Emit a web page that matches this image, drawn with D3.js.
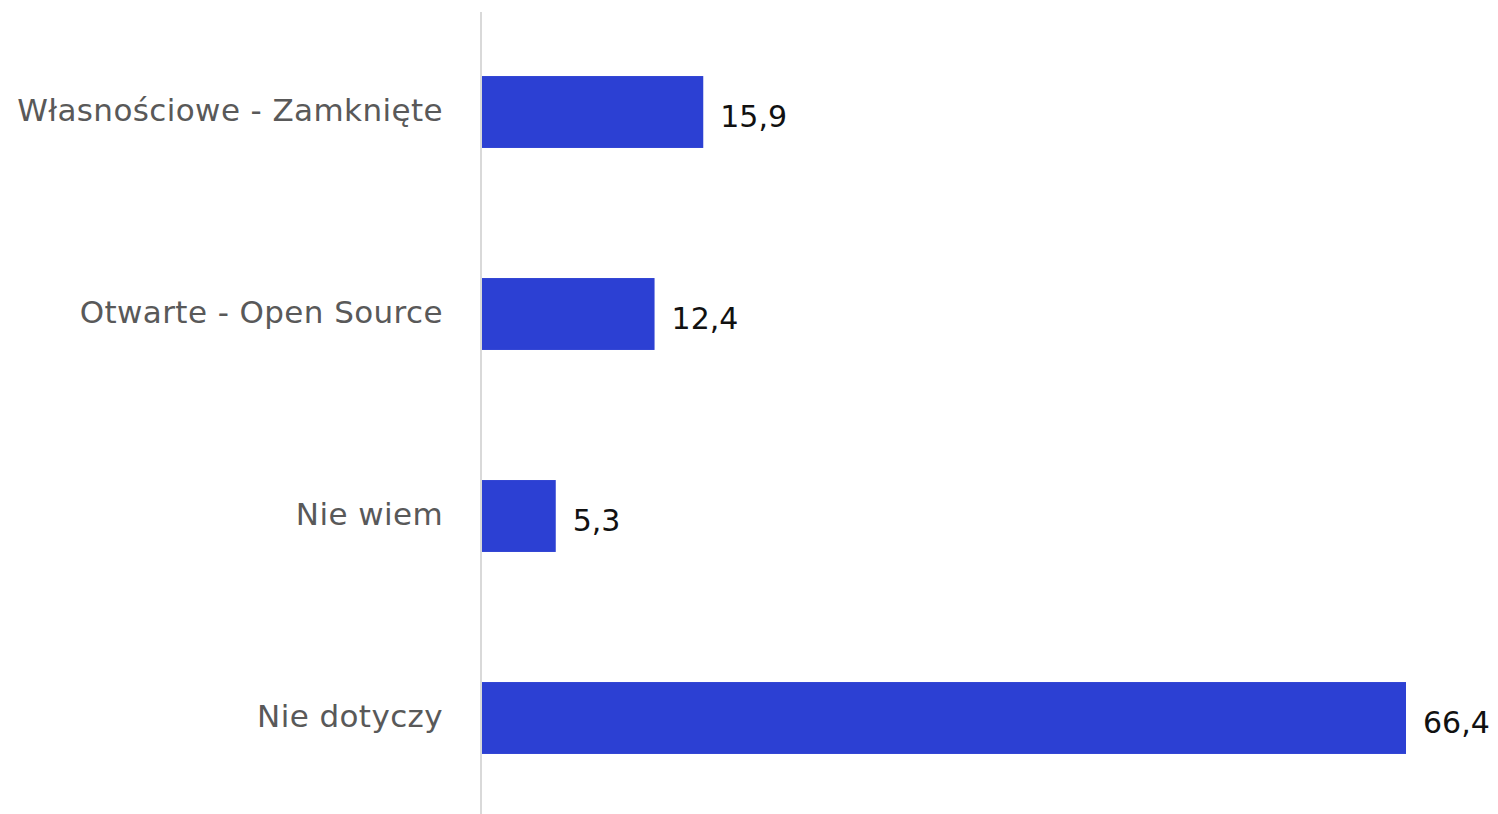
<!DOCTYPE html>
<html><head><meta charset="utf-8">
<script src="https://cdn.jsdelivr.net/npm/d3@7"></script>
<style>html,body{margin:0;padding:0;background:#fff;}svg{display:block;}</style>
</head><body>
<svg id="chart" width="1498" height="814"></svg>
<script>
const categories = ["Własnościowe - Zamknięte", "Otwarte - Open Source", "Nie wiem", "Nie dotyczy"];
const values = [15.9, 12.4, 5.3, 66.4];
const valueLabels = ["15,9", "12,4", "5,3", "66,4"];

const svg = d3.select("#chart");
const x0 = 482;
const x = d3.scaleLinear().domain([0, 66.4]).range([x0, 1406]);
const y = d3.scaleBand().domain(categories).range([11, 819]).paddingInner(0.644).paddingOuter(0.322);

svg.append("line").attr("x1", 481).attr("x2", 481).attr("y1", 12).attr("y2", 814)
  .attr("stroke", "#d9d9d9").attr("stroke-width", 2);

svg.selectAll("rect.bar").data(values).join("rect").attr("class","bar")
  .attr("x", x(0)).attr("y", (d,i)=>y(categories[i]))
  .attr("width", d=>x(d)-x(0)).attr("height", y.bandwidth())
  .attr("fill", "#2c40d3");

svg.selectAll("text.cat").data(categories).join("text").attr("class","cat")
  .attr("x", 443).attr("y", d=>y(d)+y.bandwidth()/2-2)
  .attr("text-anchor","end").attr("dominant-baseline","central")
  .attr("font-family","'DejaVu Sans', sans-serif").attr("font-size", 31)
  .attr("letter-spacing", 0.4)
  .attr("fill","#595959").text(d=>d);

svg.selectAll("text.val").data(values).join("text").attr("class","val")
  .attr("x", d=>x(d)+17).attr("y", (d,i)=>y(categories[i])+y.bandwidth()/2+4)
  .attr("dominant-baseline","central")
  .attr("font-family","'DejaVu Sans', sans-serif").attr("font-size", 30)
  .attr("fill","#111").text((d,i)=>valueLabels[i]);
</script>
</body></html>
